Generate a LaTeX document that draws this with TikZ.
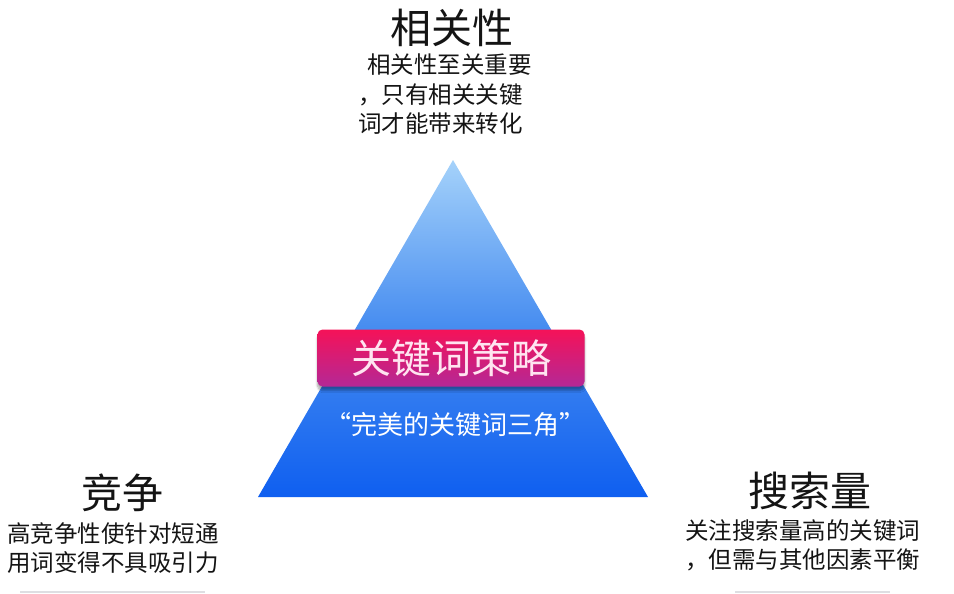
\documentclass[tikz,border=0pt]{standalone}
\usepackage{fontspec}
\setmainfont{Noto Sans CJK SC}
\usetikzlibrary{positioning,shadows.blur}
\definecolor{pyrTop}{RGB}{165,210,250}
\definecolor{pyrMid}{RGB}{70,140,240}
\definecolor{pyrBase}{RGB}{15,95,240}
\definecolor{bandRed}{RGB}{245,18,88}
\definecolor{bandPurple}{RGB}{180,40,150}
\definecolor{bandText}{RGB}{255,228,240}
\definecolor{textDark}{RGB}{20,20,20}
\definecolor{lineGray}{RGB}{222,222,226}
\tikzset{
  headline/.style={text=textDark, inner sep=0pt, font=\fontsize{41}{41}\selectfont},
  bodytext/.style={text=textDark, inner sep=0pt, align=left,
    font=\fontsize{23.5}{29.5}\selectfont},
  band/.style={rounded corners=5pt, top color=bandRed, bottom color=bandPurple,
    minimum width=267pt, minimum height=57pt, inner sep=0pt,
    text=bandText, font=\fontsize{40}{40}\selectfont,
    blur shadow={shadow xshift=0pt, shadow yshift=-4pt, shadow blur steps=8, shadow opacity=35}},
  subtitle/.style={text=white, inner sep=0pt, font=\fontsize{26}{26}\selectfont},
  baseline/.style={draw=lineGray, line width=2.5pt}
}
\begin{document}
\begin{tikzpicture}[x=1pt,y=-1pt]
  \useasboundingbox (0,0) rectangle (954,594);
  % pyramid
  \coordinate (apex) at (453,160);
  \coordinate (baseL) at (258,497);
  \coordinate (baseR) at (648,497);
  \shade[top color=pyrTop, bottom color=pyrBase, middle color=pyrMid]
    (apex) -- (baseR) -- (baseL) -- cycle;
  % centre band
  \node[band] (strategy) at (451,358) {关键词策略};
  \node[subtitle] (motto) at (455,425) {“完美的关键词三角”};
  % top corner
  \node[headline] (relevance) at (452,28) {相关性};
  \node[bodytext, anchor=north west] (relevanceText) at (358,54)
    {\hspace{9pt}相关性至关重要\\，只有相关关键\\词才能带来转化};
  % left corner
  \node[headline] (competition) at (122,493) {竞争};
  \node[bodytext, anchor=north west] (competitionText) at (7,522)
    {高竞争性使针对短通\\用词变得不具吸引力};
  % right corner
  \node[headline] (volume) at (810,491) {搜索量};
  \node[bodytext, anchor=north west] (volumeText) at (685,519)
    {关注搜索量高的关键词\\，但需与其他因素平衡};
  % faint cut-off bars
  \coordinate (barLa) at (20,592);
  \coordinate (barLb) at (205,592);
  \coordinate (barRa) at (735,592);
  \coordinate (barRb) at (890,592);
  \draw[baseline] (barLa) -- (barLb);
  \draw[baseline] (barRa) -- (barRb);
\end{tikzpicture}
\end{document}
